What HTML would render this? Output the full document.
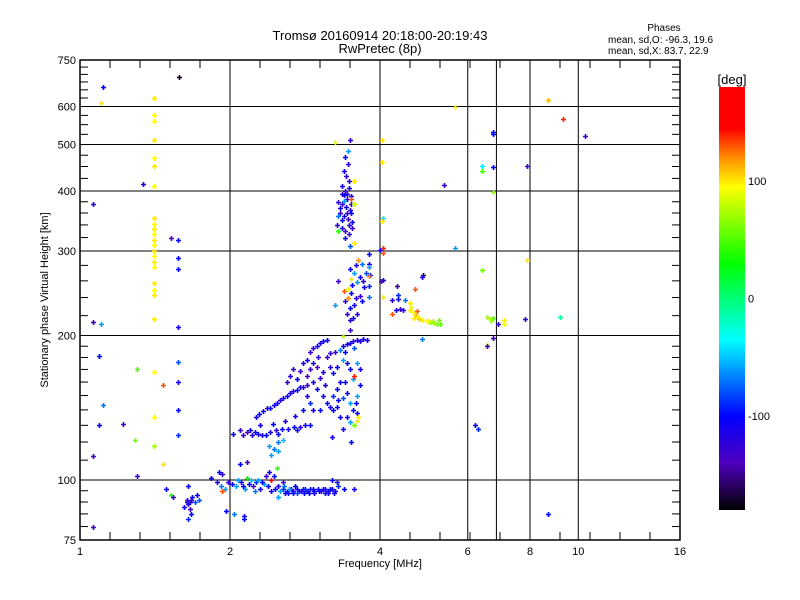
<!DOCTYPE html>
<html><head><meta charset="utf-8"><style>
body{margin:0;background:#fff;}
svg{display:block;font-family:"Liberation Sans",sans-serif;}
</style></head><body>
<svg id="chart" width="800" height="600" viewBox="0 0 800 600" xmlns="http://www.w3.org/2000/svg">
<rect width="800" height="600" fill="#fff"/>
<text x="380" y="40" font-size="13" text-anchor="middle">Tromsø 20160914 20:18:00-20:19:43</text>
<text x="380" y="53" font-size="13" text-anchor="middle">RwPretec (8p)</text>
<text x="664" y="31" font-size="10" text-anchor="middle">Phases</text>
<text x="608" y="43" font-size="10">mean, sd,O: -96.3, 19.6</text>
<text x="608" y="54" font-size="10">mean, sd,X:  83.7, 22.9</text>
<g id="grid"></g>
<g id="marks"></g>
<g id="axes"></g>
<text x="380" y="567" font-size="11" text-anchor="middle">Frequency [MHz]</text>
<text transform="translate(48,300) rotate(-90)" font-size="11" text-anchor="middle">Stationary phase Virtual Height [km]</text>
<defs><linearGradient id="cbg" x1="0" y1="0" x2="0" y2="1"></linearGradient></defs>
<rect x="719" y="87" width="26" height="423" fill="url(#cbg)"/>
<text x="732" y="84" font-size="13" text-anchor="middle">[deg]</text>
<g id="cbticks"></g>
</svg>
<script>
const xTicks=[1,2,4,6,8,10,16];
const xGrid=[2,4,6,6.85,8,10];
const yTicks=[75,100,200,300,400,500,600,750];
const yGrid=[100,200,300,400,500,600];
const cbTicks=[100,0,-100];
const colorStops=[[180,[255,0,0]],[145,[255,0,0]],[118,[255,150,0]],[95,[255,255,0]],[30,[0,255,0]],[-35,[0,255,255]],[-100,[0,0,255]],[-140,[80,0,190]],[-180,[0,0,0]]];
// clusters: [freq MHz, height km, phase deg]
const scatterPts=[[1.06,80,-130],[1.06,112,-130],[1.06,376,-120],[1.06,213,-130],[1.11,660,-100],[1.10,610,100],[1.10,211,-60],[1.09,181,-100],[1.11,143,-70],[1.09,130,-100],[1.22,131,-130],[1.34,413,-110],[1.30,170,50],[1.47,158,130],[1.47,108,100],[1.29,121,60],[1.41,118,70],[1.52,93,40],[1.52,320,-140],[1.30,102,-130],[1.49,96,-100],[1.54,92,-130],[1.57,124,-90],[1.58,690,-170],
[1.41,625,100],[1.41,576,95],[1.41,560,95],[1.41,511,100],[1.41,469,95],[1.41,451,100],[1.41,410,95],[1.41,352,100],[1.41,341,95],[1.41,334,100],[1.41,325,95],[1.41,316,100],[1.41,309,95],[1.41,300,100],[1.41,293,95],[1.41,285,100],[1.41,278,95],[1.41,257,100],[1.41,249,95],[1.41,243,100],[1.41,217,100],[1.41,168,95],[1.41,135,95],
[1.57,317,-100],[1.57,290,-100],[1.57,275,-100],[1.57,208,-110],[1.57,176,-80],[1.57,160,-110],[1.57,140,-100],
[8.7,620,110],[9.3,565,140],[10.3,520,-130],[5.66,600,95],[6.74,530,-100],[6.74,525,-100],[4.03,511,100],[4.03,460,100],[6.4,450,-40],[6.4,440,50],[6.74,448,-100],[7.9,451,-130],[5.38,412,-130],[6.74,398,70],[4.06,352,-40],[4.03,346,100],[5.66,304,-60],[7.9,287,100],[6.4,274,60],[4.85,197,-70],[6.55,219,70],[6.64,216,80],[6.69,214,70],[6.74,218,50],[7.1,215,100],[7.1,211,90],[6.9,211,-120],[6.74,198,-130],[6.55,191,90],[6.55,190,-130],[7.8,216,-120],[9.2,219,-10],[6.2,130,-100],[6.3,128,-90],[8.7,85,-100]];
const lowPts=[[1.64,91,-120],[1.65,89,-120],[1.66,90,-110],[1.68,92,-100],[1.70,90,-80],[1.66,87,-130],[1.62,88,-110],[1.72,93,-100],[1.67,85,-100],[1.73,91,-80],[1.65,83,-90],[1.65,97,-100],[1.64,90,-120],[1.67,91,-130],[1.88,99,-110],[1.83,101,-100],[1.90,104,-100],[1.93,103,-120],[1.92,97,-70],[1.95,96,-60],[1.93,95,130],[1.98,99,-130],[1.96,86,-100],[2.04,85,-70],[2.13,84,-110],[2.13,83,-100],[2.09,108,-100],[2.16,109,-130],[2.03,125,-100],[2.09,127,-130]];
const eTrace=[[2.02,98,-100],[2.06,97,-60],[2.10,99,-120],[2.14,96,-60],[2.18,98,-100],[2.22,97,-130],[2.26,99,-90],[2.30,96,-110],[2.34,98,-60],[2.38,97,-100],[2.42,95,-110],[2.46,96,-100],[2.50,97,-110],[2.55,96,-90],[2.60,95,-100],[2.65,96,-110],[2.70,97,-100],[2.75,95,-120],[2.80,96,-100],[2.85,95,-110],[2.90,96,-100],[2.95,95,-110],[3.00,96,-100],[3.05,95,-120],[3.10,96,-100],[3.15,95,-110],[3.20,96,-120],[3.25,95,-100],[3.30,97,-90],[3.38,96,-100],[3.55,96,-110],[2.36,102,-130],[2.40,104,-110],[2.28,100,-60],[2.45,102,-100],[2.42,100,175],[2.55,99,-130],[2.48,106,40],[2.50,92,-60],[2.62,94,-100],[2.72,94,-80],[2.82,94,-100],[2.95,94,-110],[3.10,94,-100],[2.20,100,-50],[2.16,101,30],[2.08,100,-60],[3.20,100,-100],[3.28,99,-110],[2.58,94,-110],[2.68,95,-100],[2.78,95,-110],[2.88,94,-100],[3.02,95,-110],[3.14,94,-110],[2.52,95,-60],[2.57,97,-70],[2.63,96,-60],[2.67,94,-100],[2.73,96,-110],[2.83,96,-90],[2.93,96,-100],[3.07,96,-110],[3.17,96,-100],[3.23,94,-110],[2.12,97,-100],[2.24,95,-70],[2.32,99,-100]];
const fLowTrace=[[2.12,124,-130],[2.16,126,-140],[2.19,127,-110],[2.21,124,-120],[2.25,126,-100],[2.32,124,-110],[2.36,124,-100],[2.41,126,-110],[2.47,127,-120],[2.54,128,-100],[2.62,128,-110],[2.69,129,-100],[2.76,129,-120],[2.83,130,-110],[2.89,130,-100],[2.28,125,-110],[2.50,125,-100],[2.72,127,-110],
[2.26,135,-110],[2.29,137,-100],[2.33,139,-110],[2.37,141,-120],[2.41,141,-100],[2.45,143,-110],[2.49,145,-100],[2.52,147,-120],[2.56,148,-110],[2.60,150,-100],[2.64,152,-110],[2.68,153,-120],[2.73,154,-100],[2.76,156,-110],[2.80,156,-120],
[2.76,169,-130],[2.80,175,-120],[2.85,178,-110],[2.89,185,-130],[2.94,188,-120],[2.99,190,-110],[3.03,193,-120],[3.08,195,-100],[3.13,196,-110],
[2.60,160,-130],[2.64,165,-120],[2.68,170,-130],[2.72,162,-100],[2.85,165,-140],[2.89,170,-130],[2.94,175,-120],[2.99,172,-140],[2.94,160,-110],[2.99,155,-100],[3.03,163,-130],[3.08,168,-120],[3.13,180,-130],[3.17,184,-120],[3.08,150,-110],[3.13,145,-100],[2.85,150,-110],[2.89,145,-90],[2.80,140,-100],[2.94,140,-110],[3.03,140,-100],[3.17,142,-110],[3.22,140,-100],[3.28,142,-110],[3.22,150,-90],[3.28,155,-100],[3.32,160,-110],[3.37,148,-80],[3.43,152,-110],[3.48,145,-60],[3.53,140,-100],[3.60,138,-100],[3.43,135,-110],[3.48,132,-60],[3.37,128,-110],[3.32,135,-110],[3.60,150,-60],[3.65,158,-100],[3.53,162,-60],[3.48,170,-100],[3.43,175,-110],[3.37,178,-60],[3.28,172,-100],[3.22,167,-110],[3.17,172,-120],[3.60,175,-60],[3.65,170,-110],[3.55,165,140],[3.60,133,100],[3.62,135,100],[3.55,130,60],[3.50,120,-100],[3.20,123,-110],[2.40,118,-60],[2.45,116,-70],[2.50,115,-60],[2.42,113,-60],[2.50,120,-70],[2.55,121,-50],
[3.37,190,-110],[3.43,192,-120],[3.48,193,-110],[3.53,195,-120],[3.60,196,-110],[3.65,195,-120],[3.70,197,-100],[3.77,196,-110],[3.32,187,-70],[3.40,185,-100],[3.55,188,-80],[3.37,200,80],[3.48,205,-130],
[2.30,130,-110],[2.44,131,-100],[2.58,133,-120],[2.70,136,-110],[2.86,158,-130],[3.00,180,-120],[3.10,158,-110],[3.25,185,-130],[3.30,147,-100],[3.40,160,-110],[3.58,145,-100]];
const fMidTrace=[[3.48,215,-120],[3.53,218,-110],[3.43,222,-130],[3.60,222,-120],[3.48,228,-100],[3.55,232,-110],[3.40,236,-130],[3.58,240,-120],[3.65,242,-130],[3.50,245,-110],[3.45,250,90],[3.38,248,130],[3.52,255,-100],[3.60,258,-60],[3.70,260,-120],[3.65,265,-100],[3.55,270,-60],[3.75,270,-80],[3.48,275,-100],[3.58,280,-120],[3.68,282,-70],[3.62,288,120],[3.50,262,100],[3.30,260,-130],[3.25,232,-60],[3.68,236,-100],[3.72,252,-110],[3.45,240,120],
[4.0,301,-110],[4.05,304,140],[4.05,297,130],[3.8,296,-100],[3.8,282,-110],[3.8,278,-60],[3.82,267,-100],[3.81,266,120],[3.81,254,-90],[3.81,241,-70],[4.05,241,100],[4.06,261,-100],[4.01,260,-140],
[4.33,254,-150],[4.88,267,-160],[4.86,265,-110],[4.7,250,130],[4.35,243,-90],[4.35,238,-100],[4.48,237,-70],[4.59,234,100],[4.31,226,-110],[4.38,227,-130],[4.45,226,-120],[4.23,237,-120],[4.23,222,130],
[4.59,226,100],[4.65,224,95],[4.70,222,100],[4.72,220,110],[4.76,219,95],[4.68,218,100],[4.80,216,105],[4.62,229,90],[4.74,225,130],[4.85,215,100],[5.03,213,60],[5.13,212,70],[5.2,211,60],[5.28,211,55],[5.1,214,70],[5.25,215,60],[4.97,214,100],[5.0,214,95]];
const fHighTrace=[[3.40,470,-100],[3.45,455,-120],[3.38,440,-110],[3.42,430,-130],[3.47,420,-120],[3.35,410,-110],[3.40,400,-130],[3.44,395,-120],[3.50,390,-110],[3.30,380,-120],[3.36,375,-130],[3.42,370,-110],[3.48,365,-120],[3.33,360,-125],[3.38,355,-115],[3.45,350,-130],[3.52,345,-110],[3.28,340,-120],[3.35,335,-110],[3.41,330,-130],[3.47,325,-120],[3.40,320,-110],[3.50,360,-100],[3.30,355,-70],[3.44,385,-130],[3.38,392,-100],[3.46,405,-110],[3.36,395,-120],[3.50,375,-130],[3.32,368,-110],[3.46,340,-120],[3.52,335,-130],[3.36,348,-100],[3.43,360,-120],[3.39,382,-60],
[3.55,420,100],[3.30,330,40],[3.50,385,130],[3.55,375,80],[3.48,510,-120],[3.25,505,90],[3.45,485,-60],[3.55,312,100],[3.48,308,-80]];

const X0=80,X1=680,Y0=60,Y1=540;
function xs(f){return X0+150*Math.log2(f);}
function ys(h){return Y1-480*Math.log10(h/75);}
function col(p){
  for(let i=0;i<colorStops.length-1;i++){
    const a=colorStops[i],b=colorStops[i+1];
    if(p<=a[0]&&p>=b[0]){const t=(a[0]-p)/(a[0]-b[0]);
      const c=a[1].map((v,k)=>Math.round(v+(b[1][k]-v)*t));return 'rgb('+c.join(',')+')';}
  }
  return p>180?'rgb(255,0,0)':'rgb(0,0,0)';
}
const NS='http://www.w3.org/2000/svg';
function mk(tag,attrs,parent){const e=document.createElementNS(NS,tag);for(const k in attrs)e.setAttribute(k,attrs[k]);parent.appendChild(e);return e;}
const grid=document.getElementById('grid'),axes=document.getElementById('axes'),marks=document.getElementById('marks');
xGrid.forEach(f=>{const l=mk('line',{x1:xs(f),x2:xs(f),y1:Y0,y2:Y1,stroke:'#000','stroke-width':1},grid);

});
yGrid.forEach(h=>{const l=mk('line',{x1:X0,x2:X1,y1:ys(h),y2:ys(h),stroke:'#000','stroke-width':1},grid);

});
function drawCluster(arr,name){
  arr.forEach(pt=>{const x=Math.round(xs(pt[0]))+0.5,y=Math.round(ys(pt[1]))+0.5;
    const p=mk('path',{d:'M'+(x-2.5)+' '+y+'h5M'+x+' '+(y-2.5)+'v5',stroke:col(pt[2]),'stroke-width':1.6,fill:'none'},marks);
    
    });
}
drawCluster(scatterPts,'scatter-point');
drawCluster(lowPts,'low-echo-point');
drawCluster(eTrace,'e-layer-point');
drawCluster(fLowTrace,'f1-trace-point');
drawCluster(fMidTrace,'f2-trace-point');
drawCluster(fHighTrace,'f2-high-point');
const fr=mk('rect',{x:X0,y:Y0,width:X1-X0,height:Y1-Y0,fill:'none',stroke:'#000','stroke-width':1.5},axes);


for(let i=1;i<20;i++){const x=X0+30*i;
  mk('line',{x1:x,x2:x,y1:Y1,y2:Y1-8,stroke:'#000'},axes);
  mk('line',{x1:x,x2:x,y1:Y0,y2:Y0+8,stroke:'#000'},axes);}
xTicks.forEach(f=>{const t=mk('text',{x:xs(f),y:555,'font-size':11,'text-anchor':'middle'},axes);t.textContent=f;

});
const yMinor=[];
for(let h=80;h<100;h+=5)yMinor.push(h);
for(let h=110;h<200;h+=10)yMinor.push(h);
for(let h=220;h<400;h+=20)yMinor.push(h);
for(let h=425;h<750;h+=25)yMinor.push(h);
yMinor.forEach(h=>{const y=ys(h);
  mk('line',{x1:X0,x2:X0+8,y1:y,y2:y,stroke:'#000'},axes);
  mk('line',{x1:X1,x2:X1-8,y1:y,y2:y,stroke:'#000'},axes);});
yTicks.forEach(h=>{const t=mk('text',{x:76,y:ys(h)+4,'font-size':11,'text-anchor':'end'},axes);t.textContent=h;

});
const g=document.getElementById('cbg');
colorStops.forEach(s=>{mk('stop',{offset:((180-s[0])/360).toFixed(4),'stop-color':'rgb('+s[1].join(',')+')'},g);});
const cbt=document.getElementById('cbticks');
cbTicks.forEach(v=>{const t=mk('text',{x:748,y:87+(180-v)/360*423+4,'font-size':11},cbt);t.textContent=v;

});
</script>
</body></html>
